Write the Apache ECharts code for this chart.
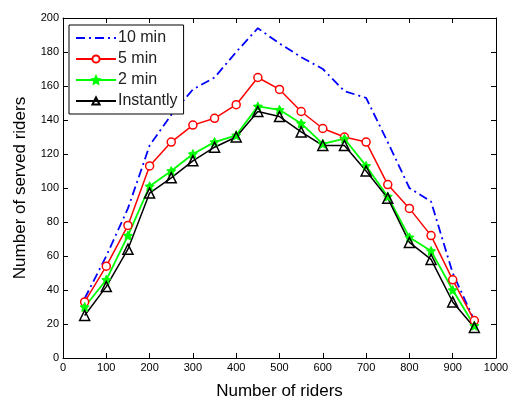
<!DOCTYPE html>
<head>
    <meta charset="utf-8">
    <title>Served riders</title>
    <script src="https://cdn.jsdelivr.net/npm/echarts@6/dist/echarts.min.js"></script>
    <style>
        body { margin: 0; background: #fff; }
        #chart { width: 508px; height: 399px; }
    </style>
</head>
<body>
    <div id="chart"></div>
    <script>
        var riders = [50, 100, 150, 200, 250, 300, 350, 400, 450, 500, 550, 600, 650, 700, 750, 800, 850, 900, 950];
        var min10 = [35, 60, 88, 125, 143, 158, 165, 180, 194, 185, 177, 170, 157, 153, 127, 100, 92, 50, 22];
        var min5 = [33, 54, 78, 113, 127, 137, 141, 149, 165, 158, 145, 135, 130, 127, 102, 88, 72, 46, 22];
        var min2 = [30, 46, 72, 101, 110, 120, 127, 131, 148, 146, 138, 126, 129, 113, 95, 71, 63, 40, 19];
        var instantly = [25, 42, 64, 97, 106, 116, 124, 130, 145, 142, 133, 125, 125, 110, 94, 68, 58, 33, 18];

        var star = 'path://M0,-10 L2.9,-4 L9.5,-3.1 L4.7,1.5 L5.9,8.1 L0,5 L-5.9,8.1 L-4.7,1.5 L-9.5,-3.1 L-2.9,-4 Z';

        function pairs(ys) {
            return riders.map(function (x, i) { return [x, ys[i]]; });
        }

        var font = 'Liberation Sans, Arial, sans-serif';
        var axisLine = { show: true, onZero: false, lineStyle: { color: '#000', width: 1 } };
        var axisTick = { show: true, inside: true, length: 5, lineStyle: { color: '#000' } };
        var plain = function (v) { return String(v); };

        var chart = echarts.init(document.getElementById('chart'));
        chart.setOption({
            animation: false,
            grid: { left: 63, right: 12, top: 18, bottom: 41, outerBoundsMode: 'none' },
            legend: {
                left: 69, top: 25,
                orient: 'vertical',
                itemWidth: 40, itemHeight: 9, itemGap: 5,
                padding: [5, 6, 5, 6],
                borderColor: '#000', borderWidth: 1,
                backgroundColor: '#fff',
                textStyle: { fontFamily: font, fontSize: 16, color: '#222', padding: [0, 0, 0, -3] },
                data: [
                    { name: '10 min', itemStyle: { color: 'rgba(0,0,0,0)', borderWidth: 0, opacity: 0 } },
                    '5 min', '2 min', 'Instantly'
                ]
            },
            xAxis: [{
                type: 'value', min: 0, max: 1000, interval: 100,
                name: 'Number of riders', nameLocation: 'middle', nameGap: 25,
                nameTextStyle: { fontFamily: font, fontSize: 17, color: '#000' },
                axisLine: axisLine, axisTick: axisTick, splitLine: { show: false },
                axisLabel: { fontFamily: font, fontSize: 11, color: '#000', margin: 4, formatter: plain }
            }, {
                type: 'value', min: 0, max: 1000, interval: 100, position: 'top',
                axisLine: axisLine, axisTick: axisTick, splitLine: { show: false },
                axisLabel: { show: false }
            }],
            yAxis: [{
                type: 'value', min: 0, max: 200, interval: 20,
                name: 'Number of served riders', nameLocation: 'middle', nameGap: 34,
                nameTextStyle: { fontFamily: font, fontSize: 17, color: '#000' },
                axisLine: axisLine, axisTick: axisTick, splitLine: { show: false },
                axisLabel: { fontFamily: font, fontSize: 11, color: '#000', margin: 4, formatter: plain }
            }, {
                type: 'value', min: 0, max: 200, interval: 20, position: 'right',
                axisLine: axisLine, axisTick: axisTick, splitLine: { show: false },
                axisLabel: { show: false }
            }],
            series: [{
                name: '10 min', type: 'line', data: pairs(min10),
                symbol: 'none',
                itemStyle: { color: '#0000ff' },
                lineStyle: { color: '#0000ff', width: 1.8, type: [9, 4, 2, 4] }
            }, {
                name: '5 min', type: 'line', data: pairs(min5),
                symbol: 'circle', symbolSize: 8,
                itemStyle: { color: '#fff', borderColor: '#ff0000', borderWidth: 1.5 },
                lineStyle: { color: '#ff0000', width: 1.5 }
            }, {
                name: '2 min', type: 'line', data: pairs(min2),
                symbol: star, symbolSize: 9,
                itemStyle: { color: '#00ff00', borderColor: '#00ff00', borderWidth: 1 },
                lineStyle: { color: '#00ff00', width: 1.8 }
            }, {
                name: 'Instantly', type: 'line', data: pairs(instantly),
                symbol: 'triangle', symbolSize: 10,
                itemStyle: { color: 'rgba(255,255,255,0)', borderColor: '#000', borderWidth: 1.5 },
                lineStyle: { color: '#000', width: 1.5 }
            }]
        });
    </script>
</body>
